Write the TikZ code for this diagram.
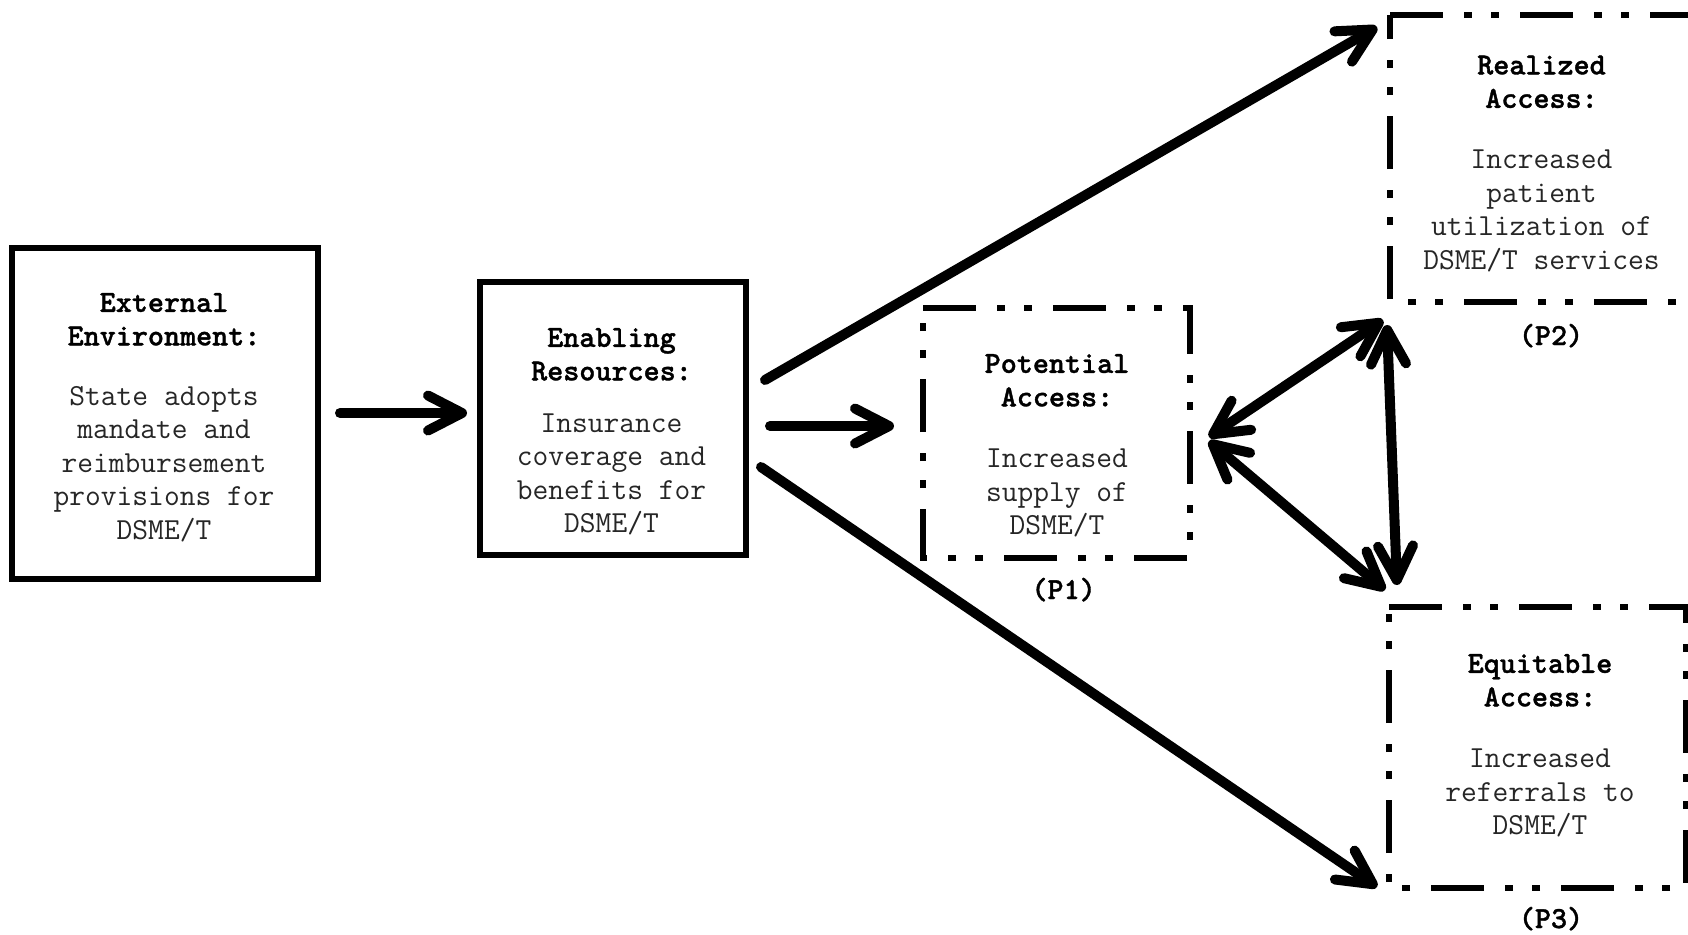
\documentclass[tikz,border=0pt]{standalone}
\usepackage{fontspec}
\usetikzlibrary{arrows.meta,calc}
\newfontfamily\headfont{lmmonolt10-bold.otf}[FakeBold=1.2]
\newcommand\boxhead[1]{\textcolor{black}{\headfont #1}}
\tikzset{barb/.tip={Straight Barb[length=17pt,width=17.5pt,round]}}

\begin{document}
\begin{tikzpicture}[x=0.5pt,y=-0.5pt,
  solidbox/.style={draw, line width=3.25pt, inner sep=0pt, outer sep=0pt},
  openbox/.style={inner sep=0pt, outer sep=0pt},
  dashborder/.style={line width=3.3pt, line cap=butt,
    dash pattern=on 26.5pt off 10.5pt on 4pt off 9.5pt on 4pt off 10.5pt},
  boxtext/.style={anchor=north, align=center, inner sep=0pt,
    font=\ttfamily\fontsize{15.3}{16.75}\selectfont, text=black!85},
  plabel/.style={anchor=base, inner sep=0pt,
    font=\headfont\fontsize{15.3}{16.75}\selectfont},
  flow/.style={line width=5pt, line cap=round, line join=round, -{barb}},
  twoway/.style={line width=5pt, line cap=round, line join=round, {barb}-{barb}},
]
\fill[white] (0,0) rectangle (1688,934);
\useasboundingbox (0,0) rectangle (1688,934);
\clip (0,0) rectangle (1688,934);

% boxes
\node[solidbox, minimum width=153pt, minimum height=165.5pt] (ext) at (165,413.5) {};
\node[solidbox, minimum width=133pt, minimum height=136.5pt] (enab) at (613,418.5) {};
\node[openbox, minimum width=133.5pt, minimum height=125pt] (pot) at (1056.5,433) {};
\node[openbox, minimum width=155pt, minimum height=143.5pt] (real) at (1545,158.5) {};
\node[openbox, minimum width=148.5pt, minimum height=140.5pt] (equi) at (1537.5,747.5) {};

% dash-dot-dot borders of the access boxes, drawn clockwise from the top left
\foreach \b in {pot,real,equi}
  \draw[dashborder] (\b.north west) -- (\b.north east) -- (\b.south east)
    -- (\b.south west) -- cycle;

% box contents
\node[boxtext] (extT) at (164,288) {\strut\boxhead{External}\\\boxhead{Environment:}\\[13.25pt]
  State adopts\\mandate and\\reimbursement\\provisions for\\DSME/T};
\node[boxtext] (enabT) at (611.5,323) {\strut\boxhead{Enabling}\\\boxhead{Resources:}\\[9.25pt]
  Insurance\\coverage and\\benefits for\\DSME/T};
\node[boxtext] (potT) at (1057,349) {\strut\boxhead{Potential}\\\boxhead{Access:}\\[14pt]
  Increased\\supply of\\DSME/T};
\node[boxtext] (realT) at (1541.5,50.5) {\strut\boxhead{Realized}\\\boxhead{Access:}\\[13.75pt]
  Increased\\patient\\utilization of\\DSME/T services};
\node[boxtext] (equiT) at (1540,649) {\strut\boxhead{Equitable}\\\boxhead{Access:}\\[14pt]
  Increased\\referrals to\\DSME/T};

% proposition labels
\node[plabel] (p1) at (1063.6,599) {(P1)};
\node[plabel] (p2) at (1551,345) {(P2)};
\node[plabel] (p3) at (1551,928) {(P3)};

% connectors
\draw[flow] ($(ext.east)+(22,-0.5)$) -- ($(enab.west)+(-13,-5.5)$);
\draw[flow] ($(enab.east)+(24,7.5)$) -- ($(pot.west)+(-29,-7)$);
\draw[flow] ($(enab.east)+(19,-38.5)$) -- ($(real.north west)+(-13,12)$);
\draw[flow] ($(enab.east)+(15,48.5)$) -- ($(equi.south west)+(-12,-1)$);
\draw[twoway] ($(pot.east)+(19,4)$) -- ($(real.south west)+(-7,18)$);
\draw[twoway] ($(pot.east)+(19,8)$) -- ($(equi.north west)+(-4,-17)$);
\draw[twoway] ($(real.south west)+(-3,23)$) -- ($(equi.north west)+(8,-22)$);
\end{tikzpicture}
\end{document}
